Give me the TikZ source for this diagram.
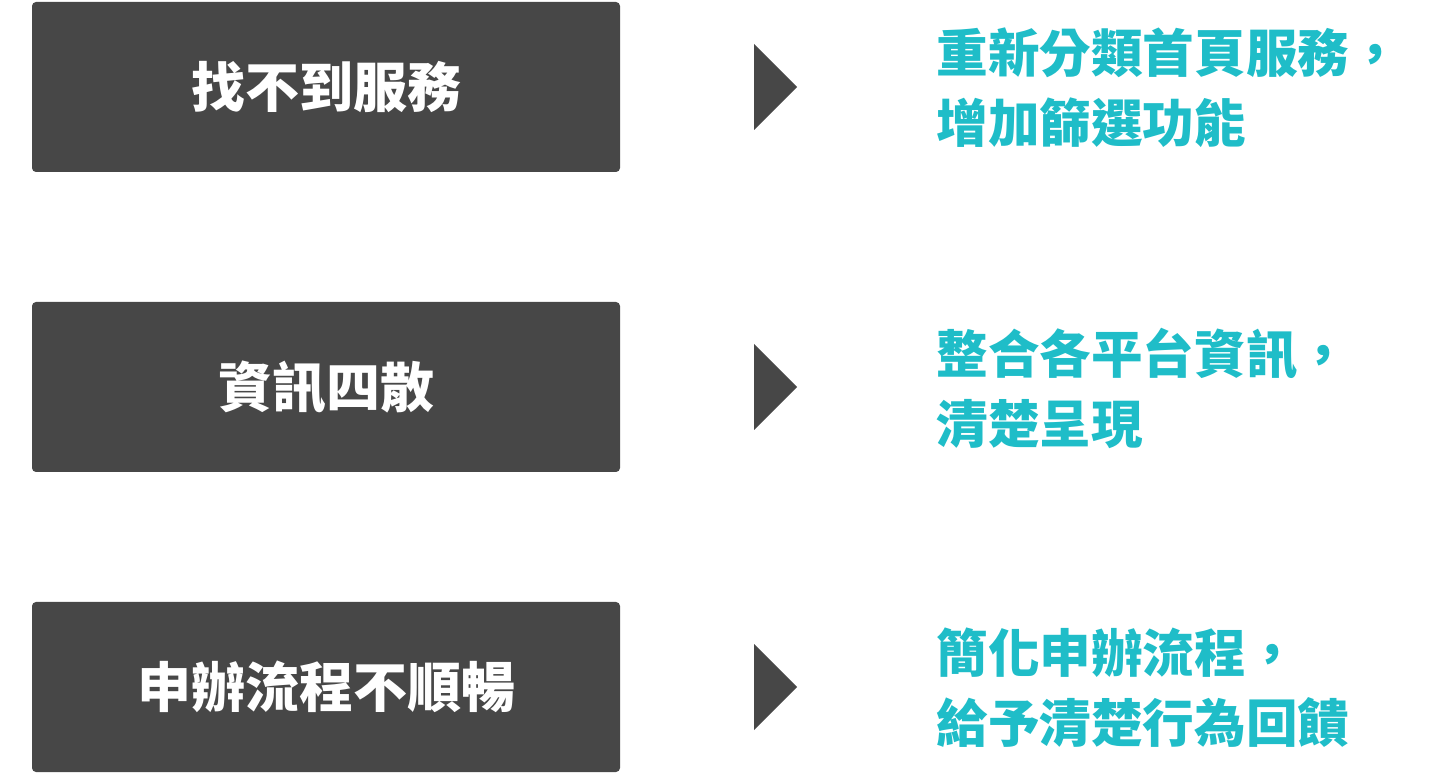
\documentclass[tikz,border=0pt]{standalone}
\usepackage{fontspec}
\newfontfamily\cjk{Noto Sans CJK TC}
\usetikzlibrary{positioning}

\definecolor{boxgray}{HTML}{474747}
\definecolor{teal}{HTML}{1FBDC8}

\tikzset{
    problem/.style={fill=boxgray, rounded corners=2pt, minimum width=294pt,
        minimum height=85pt, inner sep=0pt, text=white,
        font=\cjk\bfseries\fontsize{27}{32}\selectfont},
    solution/.style={anchor=west, align=left, inner sep=0pt, text=teal,
        font=\cjk\bfseries\fontsize{25.8}{35}\selectfont}
}

\begin{document}
\begin{tikzpicture}[x=0.5pt, y=-0.5pt]
    \useasboundingbox (0, 0) rectangle (1440, 774);

    % Rows: problem box, pointer, solution text
    \foreach \i/\y/\prob/\sol in {
        1/87/{找不到服務}/{重新分類首頁服務，\\增加篩選功能},
        2/387/{資訊四散}/{整合各平台資訊，\\清楚呈現},
        3/687/{申辦流程不順暢}/{簡化申辦流程，\\給予清楚行為回饋}} {
        \node[problem] (prob\i) at (326, \y) {\prob};
        \fill[boxgray] (754, \y-43) -- (797, \y) -- (754, \y+43) -- cycle;
        \node[solution] (sol\i) at (936, \y+1) {\sol};
    }
\end{tikzpicture}
\end{document}
